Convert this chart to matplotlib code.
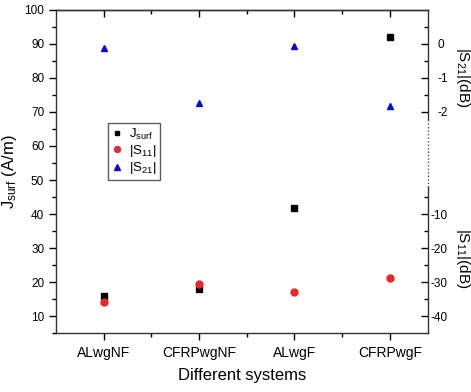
import matplotlib
matplotlib.use("Agg")
import matplotlib.pyplot as plt
from matplotlib.ticker import MultipleLocator, FixedLocator

plt.rcParams['font.family'] = ['Liberation Sans', 'DejaVu Sans']
plt.rcParams['mathtext.fontset'] = 'custom'
plt.rcParams['mathtext.rm'] = 'Liberation Sans'
plt.rcParams['mathtext.it'] = 'Liberation Sans:italic'
plt.rcParams['axes.unicode_minus'] = False

categories = ['ALwgNF', 'CFRPwgNF', 'ALwgF', 'CFRPwgF']
j_surf = [15.8, 17.9, 41.9, 92.2]          # A/m
s11_db = [-36.0, -30.7, -32.9, -28.9]      # dB
s21_db = [-0.12, -1.73, -0.07, -1.83]      # dB

x = list(range(1, len(categories) + 1))

fig = plt.figure(figsize=(4.71, 3.92), dpi=100)
ax = fig.add_axes([0.1189, 0.1505, 0.7898, 0.824])
ax_s11 = ax.twinx()
ax_s21 = ax.twinx()

ax.set_xlim(0.5, 4.4)
ax.set_ylim(5, 100)
ax_s11.set_ylim(-45, 50)
ax_s21.set_ylim(-8.5, 1.0)

ax.plot(x, j_surf, 's', color='black', ms=4.0, label=r'J$_{\mathregular{surf}}$', zorder=5)
ax_s11.plot(x, s11_db, 'o', color='#e8262b', ms=5.0, label=r'|S$_{\mathregular{11}}$|', zorder=5)
ax_s21.plot(x, s21_db, '^', color='#0a0ad0', ms=5.0, label=r'|S$_{\mathregular{21}}$|', zorder=5)

lw = 1.0
for a in (ax, ax_s11, ax_s21):
    for s in a.spines.values():
        s.set_linewidth(lw)
        s.set_color('#333333')

# main axes ticks
ax.set_xticks(x)
ax.set_xticklabels(categories, fontsize=10)
ax.xaxis.set_minor_locator(FixedLocator([1.5, 2.5, 3.5]))
ax.set_yticks(range(10, 101, 10))
ax.yaxis.set_minor_locator(MultipleLocator(5))
ax.tick_params(axis='x', which='both', direction='out', top=False, bottom=True)
ax.tick_params(axis='y', which='both', direction='out', left=True, right=False, labelsize=8.5)
ax.tick_params(axis='x', which='major', length=5, width=1, pad=4)
ax.tick_params(axis='x', which='minor', length=3, width=1)
ax.tick_params(axis='y', which='major', length=5, width=1)
ax.tick_params(axis='y', which='minor', length=3, width=1)
axt = ax.secondary_xaxis('top')
axt.set_xticks(x)
axt.set_xticklabels([])
axt.xaxis.set_minor_locator(FixedLocator([1.5, 2.5, 3.5]))
axt.tick_params(which='major', direction='in', length=5, width=1)
axt.tick_params(which='minor', direction='in', length=3, width=1)
axt.spines['top'].set_linewidth(lw)
axt.spines['top'].set_color('#333333')
ax.spines['right'].set_visible(False)

# S11 axis (lower right segment)
ax_s11.spines['right'].set_bounds(-45, -2)
for k in ('top', 'left', 'bottom'):
    ax_s11.spines[k].set_visible(False)
ax_s11.set_yticks([-10, -20, -30, -40])
ax_s11.yaxis.set_minor_locator(FixedLocator([-5, -15, -25, -35]))
ax_s11.tick_params(axis='y', which='major', direction='in', length=5, width=1, labelsize=8.5, pad=2)
ax_s11.tick_params(axis='y', which='minor', direction='in', length=3, width=1)

# S21 axis (upper right segment)
ax_s21.spines['right'].set_bounds(-2.2, 1.0)
for k in ('top', 'left', 'bottom'):
    ax_s21.spines[k].set_visible(False)
ax_s21.set_yticks([0, -1, -2])
ax_s21.yaxis.set_minor_locator(FixedLocator([0.5, -0.5, -1.5]))
ax_s21.tick_params(axis='y', which='major', direction='in', length=5, width=1, labelsize=8.5, pad=7)
ax_s21.tick_params(axis='y', which='minor', direction='in', length=3, width=1)

# dotted break line between the two right segments
y_top = ax.transData.inverted().transform(ax_s21.transData.transform((0, -2.2)))[1]
y_bot = ax.transData.inverted().transform(ax_s11.transData.transform((0, -2)))[1]
ax.plot([4.4, 4.4], [y_bot, y_top], linestyle=(0, (1, 1.5)), color='#555555',
        lw=1.0, clip_on=False)

ax.set_xlabel('Different systems', fontsize=12, labelpad=6)
ax.set_ylabel(r'J$_{\mathregular{surf}}$ (A/m)', fontsize=12, labelpad=4)

fig.text(0.982, 1 - 77 / 392, r'|S$_{\mathregular{21}}$|(dB)', rotation=270,
         ha='center', va='center', fontsize=11)
fig.text(0.982, 1 - 258 / 392, r'|S$_{\mathregular{11}}$|(dB)', rotation=270,
         ha='center', va='center', fontsize=11)

handles = [ax.lines[0], ax_s11.lines[0], ax_s21.lines[0]]
leg = ax.legend(handles, [h.get_label() for h in handles],
                loc='upper left', fontsize=9.5, frameon=True, fancybox=False,
                handlelength=0.8, handletextpad=0.5, borderpad=0.3,
                labelspacing=0.08, borderaxespad=0, markerscale=0.85)
leg.set_bbox_to_anchor((108 / 471, 1 - 123 / 392), transform=fig.transFigure)
leg.get_frame().set_edgecolor('#333333')
leg.get_frame().set_linewidth(1.0)

fig.savefig('out.png', dpi=100)
